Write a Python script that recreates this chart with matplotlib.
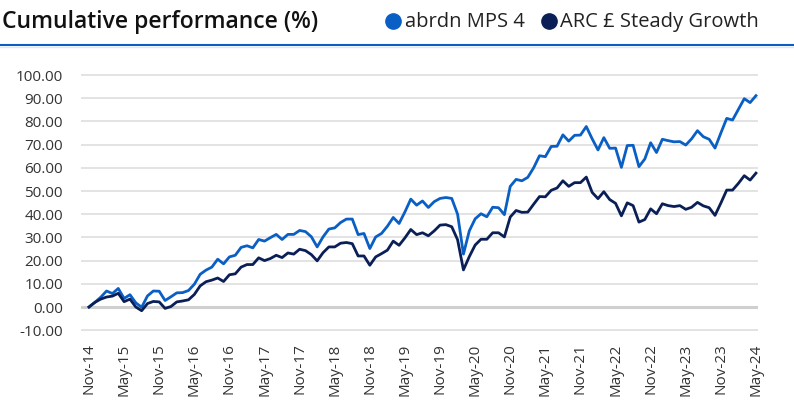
import numpy as np
import matplotlib

matplotlib.use("Agg")
import matplotlib.pyplot as plt
from matplotlib.lines import Line2D


months = ["Nov-14", "May-15", "Nov-15", "May-16", "Nov-16", "May-17", "Nov-17",
          "May-18", "Nov-18", "May-19", "Nov-19", "May-20", "Nov-20", "May-21",
          "Nov-21", "May-22", "Nov-22", "May-23", "Nov-23", "May-24"]

# monthly cumulative % (Nov-14 .. May-24)
mps4 = [0.0, 2.0, 4.2, 6.9, 5.8, 8.0, 3.7, 5.3, 1.8, -0.1,
        4.8, 6.9, 6.8, 2.8, 4.4, 6.1, 6.2, 7.1, 9.8, 14.1,
        15.9, 17.2, 20.6, 18.6, 21.6, 22.3, 25.7, 26.4, 25.5, 29.1,
        28.4, 29.9, 31.3, 29.1, 31.3, 31.3, 33.0, 32.5, 30.3, 25.9,
        30.2, 33.6, 34.1, 36.4, 37.9, 37.9, 31.2, 31.7, 25.2, 30.2,
        31.7, 34.8, 38.6, 36.0, 41.0, 46.5, 43.9, 45.7, 42.9, 45.4,
        46.8, 47.2, 46.8, 40.0, 22.8, 32.8, 38.0, 40.2, 38.9, 43.0,
        42.8, 39.8, 52.0, 55.0, 54.4, 55.9, 60.0, 65.2, 64.8, 69.2,
        69.3, 74.2, 71.5, 74.0, 74.1, 77.8, 72.5, 67.7, 73.0, 68.4,
        68.5, 60.2, 69.6, 69.7, 60.5, 63.8, 70.8, 66.6, 72.3, 71.7,
        71.2, 71.3, 69.8, 72.5, 76.0, 73.4, 72.3, 68.5, 75.0, 81.3,
        80.6, 85.2, 89.8, 88.1, 91.1]

arc = [0.0, 2.0, 3.4, 4.3, 4.7, 5.9, 2.3, 3.4, 0.0, -1.6,
       1.5, 2.4, 2.2, -0.6, 0.2, 2.2, 2.6, 3.1, 5.4, 9.1,
       10.9, 11.6, 12.5, 11.0, 13.9, 14.3, 17.2, 18.3, 18.3, 21.2,
       20.0, 20.9, 22.3, 21.3, 23.3, 22.8, 24.9, 24.3, 22.6, 19.9,
       23.4, 25.9, 25.9, 27.5, 27.8, 27.3, 22.0, 22.0, 18.0, 21.6,
       23.0, 24.5, 28.4, 26.6, 29.8, 33.4, 31.2, 32.0, 30.7, 32.8,
       35.3, 35.5, 34.6, 29.0, 16.0, 21.7, 26.7, 29.2, 29.2, 32.0,
       32.0, 30.2, 38.8, 41.6, 40.8, 40.9, 44.3, 47.6, 47.5, 50.3,
       51.3, 54.4, 52.0, 53.6, 53.6, 56.0, 49.4, 46.7, 49.7, 46.3,
       44.7, 39.3, 44.9, 43.7, 36.6, 37.7, 42.3, 40.2, 44.5, 43.7,
       43.3, 43.7, 42.1, 43.0, 45.1, 43.6, 42.8, 39.5, 44.8, 50.4,
       50.4, 53.3, 56.6, 54.7, 57.7]

series_names = ["abrdn MPS 4", "ARC \u00a3 Steady Growth"]
series_colors = ["#0a5fc4", "#0b1f57"]

plt.rcParams["font.family"] = ["Open Sans", "DejaVu Sans"]

fig = plt.figure(figsize=(7.94, 4.01), dpi=100)
ax = fig.add_axes([0.102, 0.1748, 0.8526, 0.6399])

x = np.arange(len(mps4))
ax.plot(x, mps4, color=series_colors[0], lw=2.0, zorder=3)
ax.plot(x, arc, color=series_colors[1], lw=2.0, zorder=4)

ax.set_xlim(-1.37, 114.34)
ax.set_ylim(-10.3, 100.3)
yt = np.arange(-10, 101, 10)
ax.set_yticks(yt)
ax.set_yticklabels([f"{v:.2f}" for v in yt])
for v in yt:
    if v == 0:
        ax.axhline(v, color="#cfcfcf", lw=2.2, zorder=1)
    else:
        ax.axhline(v, color="#dedede", lw=1.2, zorder=1)

ax.set_xticks(np.arange(0, len(mps4), 6))
ax.set_xticklabels(months, rotation=90)
ax.tick_params(axis="both", length=0, labelsize=11, colors="#333333")
ax.tick_params(axis="y", pad=13)
ax.tick_params(axis="x", pad=9)
for s in ax.spines.values():
    s.set_visible(False)

fig.text(0.003, 0.946, "Cumulative performance (%)", fontsize=16.5, fontweight="semibold",
         color="#111111", va="center", ha="left")

# legend in the header
fig.add_artist(Line2D([0.4955], [0.948], marker="o", markersize=11, color=series_colors[0],
                      transform=fig.transFigure))
fig.text(0.510, 0.946, series_names[0], fontsize=14.5, color="#222222", va="center")
fig.add_artist(Line2D([0.691], [0.948], marker="o", markersize=11, color=series_colors[1],
                      transform=fig.transFigure))
fig.text(0.705, 0.946, series_names[1], fontsize=14.5, color="#222222", va="center")

# blue rule under the header
fig.add_artist(Line2D([0, 1], [0.889, 0.889], color="#0a5fc4", lw=1.5,
                      transform=fig.transFigure))
fig.add_artist(Line2D([0, 1], [0.884, 0.884], color="#dfe8f5", lw=1.0,
                      transform=fig.transFigure))

plt.savefig("out.png", dpi=100)
